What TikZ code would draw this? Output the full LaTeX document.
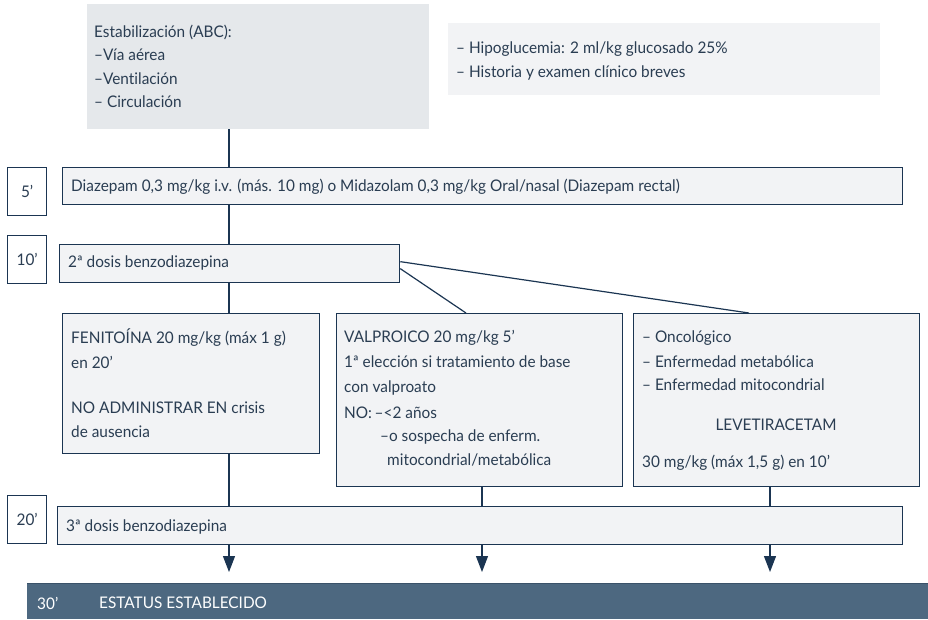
\documentclass[tikz,border=0pt]{standalone}
\usepackage{fontspec}
\setmainfont{Lato}[FakeStretch=0.96, Ligatures=NoCommon]
\usetikzlibrary{arrows.meta}
\definecolor{navy}{HTML}{1B3552}
\definecolor{txt}{HTML}{2A3D52}
\definecolor{boxfill}{HTML}{F2F3F5}
\definecolor{abcfill}{HTML}{E5E8EB}
\definecolor{barfill}{HTML}{4D6880}
\definecolor{barline}{HTML}{3A5269}
\tikzset{
  x=1pt, y=-1pt,
  every node/.style={font=\fontsize{16}{23}\selectfont, text=txt},
  boxst/.style={draw=navy, fill=boxfill, line width=1.3pt, inner sep=0pt, anchor=north west},
  lblst/.style={draw=navy, fill=white, line width=1.3pt, inner sep=0pt, anchor=north west},
  grayst/.style={draw=none, inner sep=0pt, anchor=north west},
  tx/.style={anchor=west, inner sep=0pt},
  link/.style={draw=navy, line width=1.2pt},
  arr/.style={link, -{Triangle[width=12pt,length=16pt]}}
}
\begin{document}
\begin{tikzpicture}
\useasboundingbox (0,0) rectangle (928,619);
% top gray boxes
\node[grayst, fill=abcfill, minimum width=342pt, minimum height=125pt] (abc) at (87,4) {};
\node[grayst, fill=boxfill, minimum width=432pt, minimum height=72pt] (hipo) at (448,23) {};
\node[tx] (abct1) at (94,32) {Estabilización (ABC):};
\node[tx] (abct2) at (94,55) {–Vía aérea};
\node[tx] (abct3) at (94,79) {–Ventilación};
\node[tx] (abct4) at (94,102) {– Circulación};
\node[tx] (hipot1) at (456,49) {– Hipoglucemia: 2 ml/kg glucosado 25\%};
\node[tx] (hipot2) at (456,73) {– Historia y examen clínico breves};
% time labels
\node[lblst, minimum width=39pt, minimum height=48pt] (l5) at (7,167) {};
\node at (l5.center) {5'};
\node[lblst, minimum width=39pt, minimum height=48pt] (l10) at (7,235) {};
\node at (l10.center) {10'};
\node[lblst, minimum width=39pt, minimum height=48pt] (l20) at (7,495) {};
\node at (l20.center) {20'};
% main boxes
\node[boxst, minimum width=840pt, minimum height=37pt] (d5) at (62,167) {};
\node[tx] (d5t) at (71,187) {Diazepam 0,3 mg/kg i.v. (más. 10 mg) o Midazolam 0,3 mg/kg Oral/nasal (Diazepam rectal)};
\node[boxst, minimum width=340pt, minimum height=38pt] (d10) at (59,244) {};
\node[tx] (d10t) at (68,263) {2ª dosis benzodiazepina};
\node[boxst, minimum width=257pt, minimum height=140pt] (fen) at (62,313) {};
\node[boxst, minimum width=286pt, minimum height=173pt] (val) at (336,313) {};
\node[boxst, minimum width=286pt, minimum height=173pt] (lev) at (633,313) {};
\node[boxst, minimum width=845pt, minimum height=38pt] (d20) at (57,506) {};
\node[tx] (d20t) at (66,527) {3ª dosis benzodiazepina};
% box texts
\node[tx] (fen1) at (71,338) {FENITOÍNA 20 mg/kg (máx 1 g)};
\node[tx] (fen2) at (71,362) {en 20'};
\node[tx] (fen3) at (71,408) {NO ADMINISTRAR EN crisis};
\node[tx] (fen4) at (71,432) {de ausencia};
\node[tx] (val1) at (344,338) {VALPROICO 20 mg/kg 5'};
\node[tx] (val2) at (344,362) {1ª elección si tratamiento de base};
\node[tx] (val3) at (344,388) {con valproato};
\node[tx] (val4) at (344,413) {NO:\,–<2 años};
\node[tx] (val5) at (380,437) {–o sospecha de enferm.};
\node[tx] (val6) at (387,460) {mitocondrial/metabólica};
\node[tx] (lev1) at (642,338) {– Oncológico};
\node[tx] (lev2) at (642,362) {– Enfermedad metabólica};
\node[tx] (lev3) at (642,385) {– Enfermedad mitocondrial};
\node (lev4) at (776,425) {LEVETIRACETAM};
\node[tx] (lev5) at (642,463) {30 mg/kg (máx 1,5 g) en 10'};
% bottom bar
\node[grayst, fill=barfill, minimum width=901pt, minimum height=36pt] (bar) at (27,583) {};
\draw[barline, line width=1pt] (bar.north west) -- (bar.north east);
\node[tx, text=white] (bar1) at (37,603) {30'};
\node[tx, text=white] (bar2) at (99,603) {ESTATUS ESTABLECIDO};
% connectors
\coordinate (trunk) at (229,0);
\coordinate (vx) at (482,0);
\coordinate (lx) at (770,0);
\coordinate (a1) at (229,572);
\coordinate (a2) at (482,572);
\coordinate (a3) at (770,572);
\coordinate (ve) at (466,313);
\coordinate (le) at (749,313);
\draw[link] (abc.south -| trunk) -- (d5.north -| trunk);
\draw[link] (d5.south -| trunk) -- (d10.north -| trunk);
\draw[link] (d10.south -| trunk) -- (fen.north -| trunk);
\draw[link] ([yshift=2pt]d10.east) -- (le);
\draw[link] ([yshift=-5pt]d10.east) -- (ve);
\draw[link] (fen.south -| trunk) -- (d20.north -| trunk);
\draw[link] (val.south -| vx) -- (d20.north -| vx);
\draw[link] (lev.south -| lx) -- (d20.north -| lx);
\draw[arr] (d20.south -| trunk) -- (a1);
\draw[arr] (d20.south -| vx) -- (a2);
\draw[arr] (d20.south -| lx) -- (a3);
\end{tikzpicture}
\end{document}
